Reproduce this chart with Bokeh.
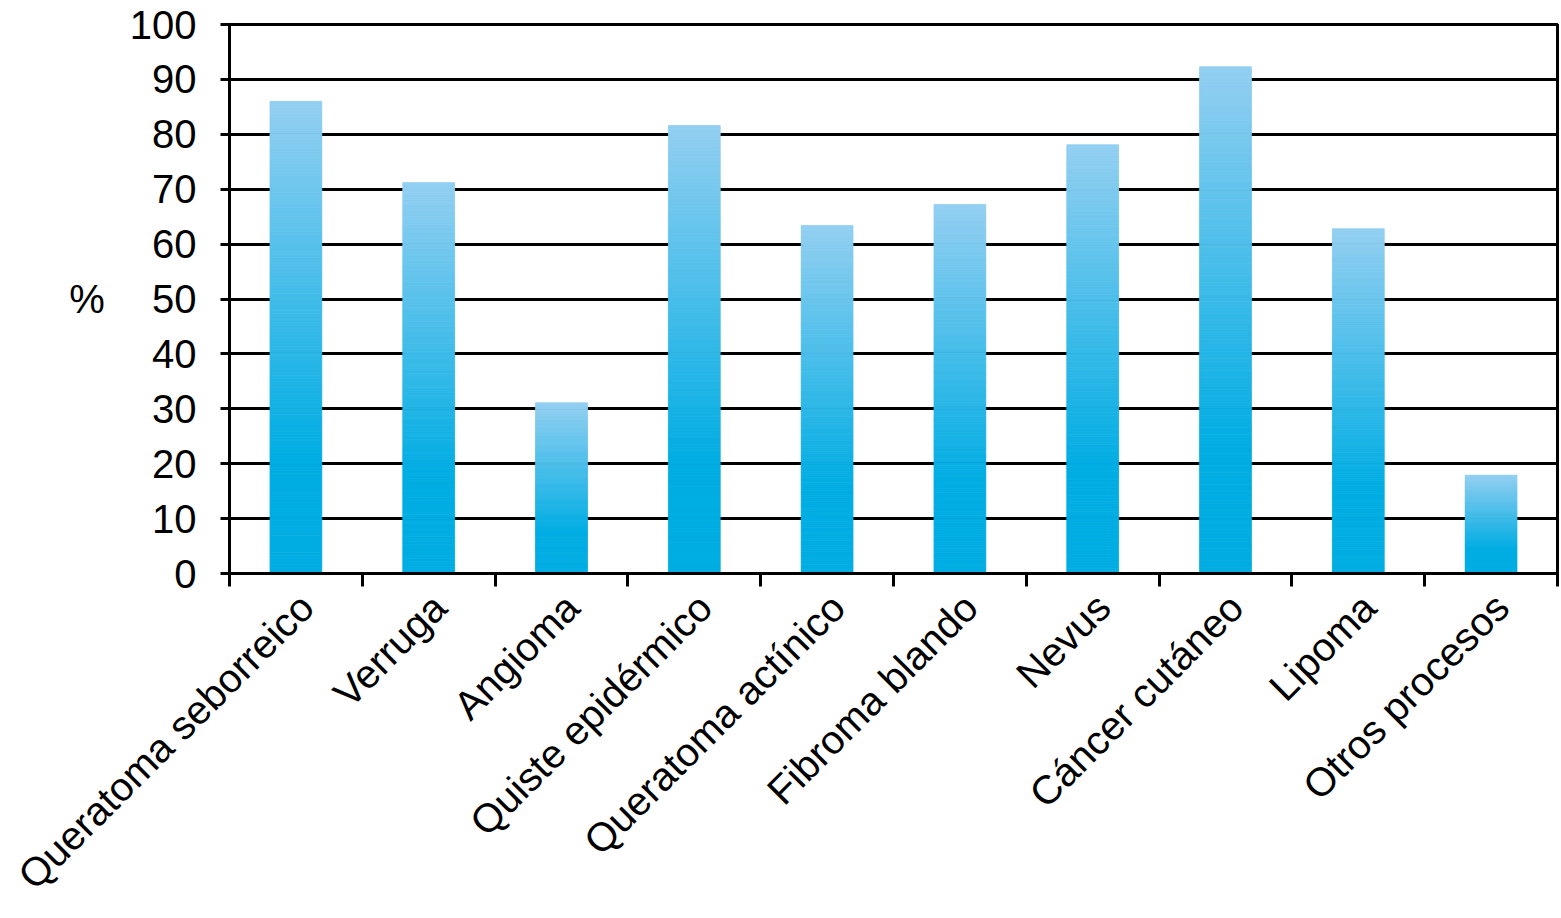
import math
from bokeh.plotting import figure
from bokeh.models import FixedTicker, Range1d
from bokeh.embed import file_html
from bokeh.resources import INLINE

categories = ["Queratoma seborreico", "Verruga", "Angioma", "Quiste epidérmico",
              "Queratoma actínico", "Fibroma blando", "Nevus", "Cáncer cutáneo",
              "Lipoma", "Otros procesos"]
values = [86.0, 71.2, 31.1, 81.6, 63.4, 67.2, 78.1, 92.3, 62.8, 17.9]
y_ticks = [0, 10, 20, 30, 40, 50, 60, 70, 80, 90, 100]

FONT = "Liberation Sans"
TOP_RGB = (147, 207, 241)
BOT_RGB = (0, 173, 227)

p = figure(width=1561, height=918, output_backend="svg", toolbar_location=None,
           x_range=Range1d(0, len(categories)), y_range=Range1d(0, 100),
           min_border_left=229, min_border_top=24, min_border_right=4,
           min_border_bottom=345)

# gradient bars: slices of each bar
N = 160
lefts, rights, bottoms, tops, colors = [], [], [], [], []
bw = 0.39
for i, v in enumerate(values):
    for k in range(N):
        b = v * k / N
        t = v * (k + 1) / N
        f = (k + 0.5) / N
        g = 0.0 if f < 0.25 else (f - 0.25) / 0.75
        r = round(BOT_RGB[0] + (TOP_RGB[0] - BOT_RGB[0]) * g)
        gg = round(BOT_RGB[1] + (TOP_RGB[1] - BOT_RGB[1]) * g)
        bb = round(BOT_RGB[2] + (TOP_RGB[2] - BOT_RGB[2]) * g)
        lefts.append(i + 0.5 - bw / 2)
        rights.append(i + 0.5 + bw / 2)
        bottoms.append(b)
        tops.append(t)
        colors.append("#%02x%02x%02x" % (r, gg, bb))

p.quad(left=lefts, right=rights, bottom=bottoms, top=tops,
       fill_color=colors, line_color=colors, line_width=0.8)

# x axis: labels near centres, ticks (minor) at category boundaries
label_pos = [i + 0.58 for i in range(len(categories))]
xa = p.xaxis[0]
xa.ticker = FixedTicker(ticks=label_pos,
                        minor_ticks=list(range(len(categories) + 1)))
xa.major_label_overrides = {pos: c for pos, c in zip(label_pos, categories)}
xa.major_label_orientation = math.pi / 4
xa.major_tick_out = 0
xa.major_tick_in = 0
xa.minor_tick_out = 13
xa.minor_tick_in = 0
xa.minor_tick_line_color = "black"
xa.minor_tick_line_width = 3
xa.axis_line_color = "black"
xa.axis_line_width = 3
xa.major_label_text_font = FONT
xa.major_label_text_font_size = "40px"
xa.major_label_text_color = "black"
xa.major_label_standoff = 14

ya = p.yaxis[0]
ya.ticker = FixedTicker(ticks=y_ticks, minor_ticks=[])
ya.major_tick_out = 9
ya.major_tick_in = 0
ya.major_tick_line_width = 3
ya.major_tick_line_color = "black"
ya.axis_line_color = "black"
ya.axis_line_width = 3
ya.major_label_text_font = FONT
ya.major_label_text_font_size = "40px"
ya.major_label_text_color = "black"
ya.major_label_standoff = 24
ya.axis_label = "%"
ya.axis_label_text_font = FONT
ya.axis_label_text_font_size = "40px"
ya.axis_label_text_font_style = "normal"
ya.axis_label_text_color = "black"
ya.axis_label_orientation = "horizontal"
ya.axis_label_standoff = 22

p.xgrid.grid_line_color = None
p.ygrid.grid_line_color = "black"
p.ygrid.grid_line_width = 3
p.ygrid.grid_line_alpha = 1.0
p.ygrid.level = "underlay"

p.outline_line_color = "black"
p.outline_line_width = 3
p.outline_line_alpha = 1.0
p.background_fill_color = "white"
p.border_fill_color = "white"

open("out.html", "w").write(file_html(p, INLINE))
